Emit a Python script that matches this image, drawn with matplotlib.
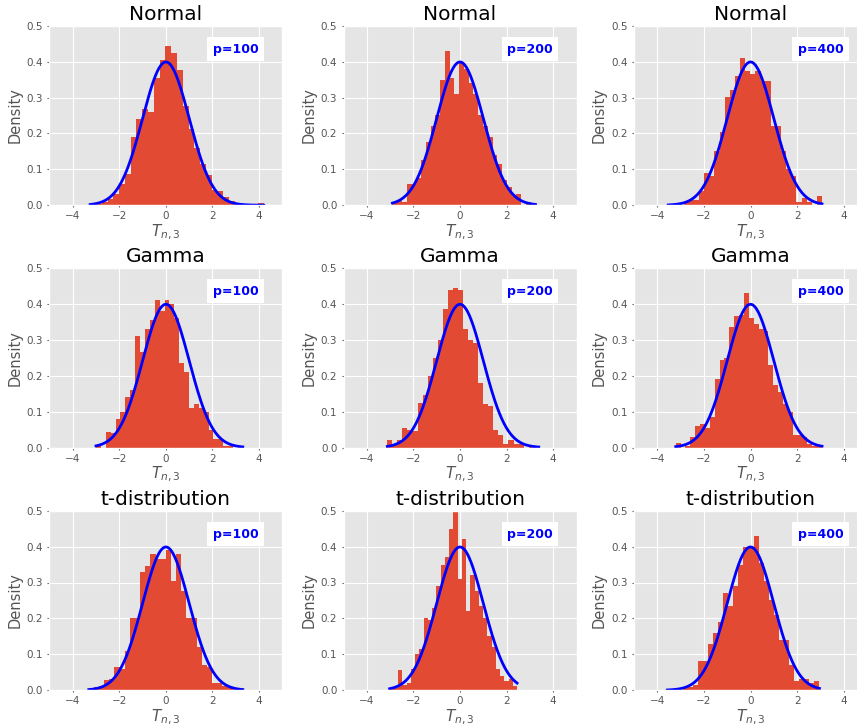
import matplotlib
matplotlib.use('Agg')
import matplotlib.pyplot as plt
import numpy as np

plt.style.use('ggplot')

dists = ['Normal', 'Gamma', 't-distribution']
dims = [100, 200, 400]

# data range (min, max) of each panel, row by row
ranges = [[(-3.25, 4.20), (-2.90, 3.24), (-3.53, 3.07)],
          [(-3.00, 3.30), (-3.12, 3.38), (-3.21, 3.07)],
          [(-3.31, 3.30), (-3.02, 2.45), (-3.57, 2.96)]]

# density of each of the 30 bins
normal_100 = [0.004, 0.004, 0.008, 0.018, 0.032, 0.060, 0.088, 0.190, 0.241, 0.269,
              0.260, 0.355, 0.405, 0.444, 0.423, 0.376, 0.277, 0.213, 0.160, 0.115,
              0.083, 0.041, 0.039, 0.024, 0.013, 0.004, 0.0, 0.0, 0.0, 0.005]
normal_200 = [0.005, 0.013, 0.008, 0.060, 0.060, 0.075, 0.125, 0.175, 0.220, 0.250,
              0.350, 0.430, 0.355, 0.310, 0.400, 0.380, 0.340, 0.310, 0.250, 0.220,
              0.190, 0.140, 0.115, 0.070, 0.050, 0.025, 0.030, 0.0, 0.008, 0.005]
normal_400 = [0.004, 0.0, 0.0, 0.010, 0.015, 0.015, 0.040, 0.090, 0.080, 0.150,
              0.205, 0.300, 0.320, 0.360, 0.410, 0.375, 0.365, 0.375, 0.345, 0.345,
              0.220, 0.220, 0.150, 0.100, 0.080, 0.010, 0.020, 0.010, 0.0, 0.025]
gamma_100 = [0.005, 0.0, 0.043, 0.040, 0.078, 0.100, 0.140, 0.160, 0.310, 0.265,
             0.330, 0.355, 0.410, 0.380, 0.410, 0.400, 0.360, 0.235, 0.210, 0.110,
             0.120, 0.110, 0.100, 0.050, 0.023, 0.023, 0.005, 0.005, 0.0, 0.005]
gamma_200 = [0.020, 0.010, 0.020, 0.055, 0.050, 0.047, 0.125, 0.145, 0.200, 0.250,
             0.300, 0.385, 0.440, 0.445, 0.440, 0.330, 0.300, 0.290, 0.180, 0.120,
             0.115, 0.050, 0.035, 0.010, 0.020, 0.010, 0.010, 0.0, 0.005, 0.005]
gamma_400 = [0.012, 0.0, 0.005, 0.030, 0.060, 0.065, 0.055, 0.085, 0.190, 0.245,
             0.250, 0.335, 0.365, 0.370, 0.430, 0.360, 0.345, 0.330, 0.325, 0.230,
             0.175, 0.155, 0.120, 0.100, 0.035, 0.035, 0.030, 0.010, 0.005, 0.005]
t_100 = [0.007, 0.008, 0.012, 0.028, 0.030, 0.065, 0.060, 0.110, 0.200, 0.200,
         0.330, 0.345, 0.380, 0.365, 0.365, 0.390, 0.305, 0.380, 0.275, 0.200,
         0.200, 0.120, 0.070, 0.065, 0.020, 0.020, 0.012, 0.010, 0.005, 0.005]
t_200 = [0.005, 0.005, 0.055, 0.015, 0.020, 0.060, 0.100, 0.115, 0.200, 0.195,
         0.230, 0.290, 0.350, 0.370, 0.450, 0.500, 0.310, 0.420, 0.220, 0.320,
         0.275, 0.235, 0.200, 0.150, 0.120, 0.060, 0.040, 0.025, 0.030, 0.012]
t_400 = [0.003, 0.0, 0.0, 0.005, 0.010, 0.015, 0.080, 0.080, 0.130, 0.160,
         0.190, 0.270, 0.235, 0.290, 0.350, 0.400, 0.400, 0.430, 0.355, 0.305,
         0.250, 0.210, 0.140, 0.140, 0.070, 0.025, 0.030, 0.030, 0.020, 0.025]

heights = [[normal_100, normal_200, normal_400],
           [gamma_100, gamma_200, gamma_400],
           [t_100, t_200, t_400]]

W, H = 857, 727
fig = plt.figure(figsize=(W / 100, H / 100), dpi=100)
lefts = [49.4, 343.5, 634]
tops = [25.7, 268, 510.7]
aw, ah = 233, 179.5

for i, dist in enumerate(dists):
    for j, p in enumerate(dims):
        ax = fig.add_axes([lefts[j] / W, 1 - (tops[i] + ah) / H, aw / W, ah / H])
        lo, hi = ranges[i][j]
        edges = np.linspace(lo, hi, 31)
        centers = (edges[:-1] + edges[1:]) / 2
        ax.hist(centers, bins=edges, weights=heights[i][j], color='#E24A33')
        xs = np.linspace(lo, hi, 200)
        ax.plot(xs, np.exp(-xs ** 2 / 2) / np.sqrt(2 * np.pi), color='blue', linewidth=2)
        ax.set_xlim(-5, 5)
        ax.set_ylim(0, 0.5)
        ax.set_xticks([-4, -2, 0, 2, 4])
        ax.set_yticks([0, 0.1, 0.2, 0.3, 0.4, 0.5])
        ax.tick_params(labelsize=7.5, length=1.5, pad=3)
        ax.set_title(dist, fontsize=14.5, color='black', pad=4)
        ax.set_ylabel('Density', fontsize=10.5, labelpad=3)
        ax.set_xlabel('$T_{n,3}$', fontsize=11, labelpad=1)
        ax.text(0.80, 0.87, 'p=%d' % p, transform=ax.transAxes, ha='center',
                va='center', color='blue', fontweight='bold', fontsize=9,
                bbox=dict(facecolor='white', edgecolor='none', pad=4))

plt.savefig('out.png')
